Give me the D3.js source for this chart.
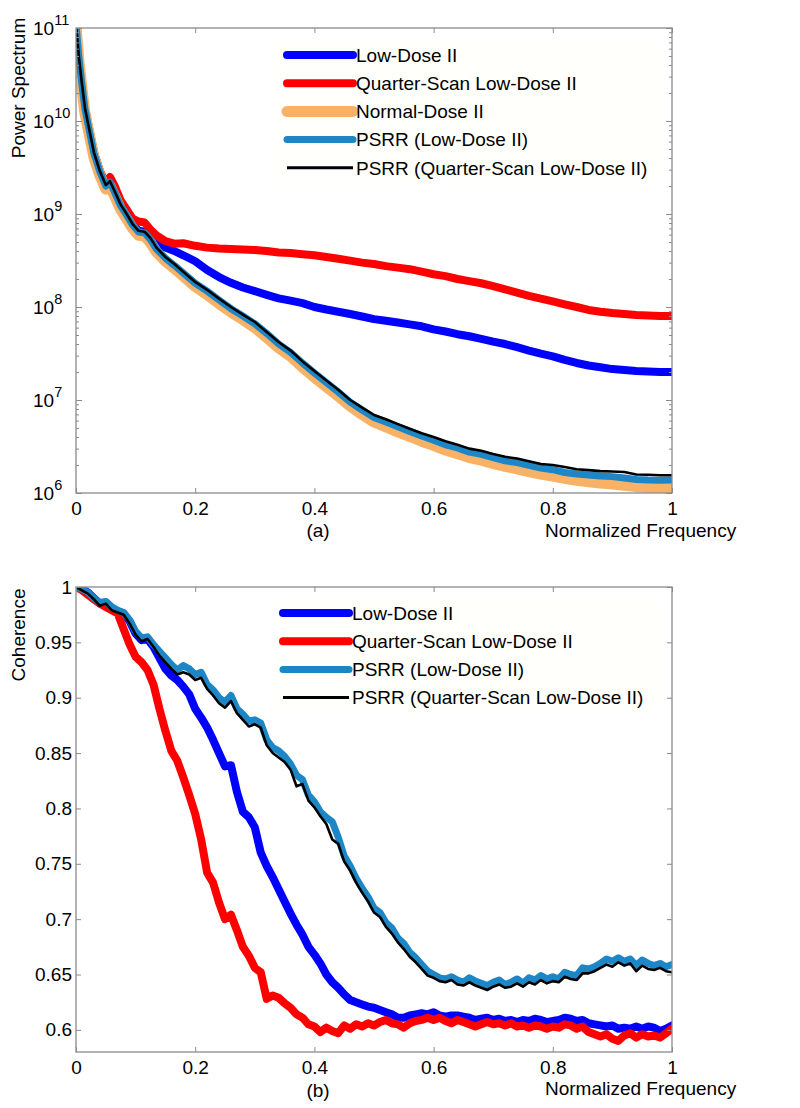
<!DOCTYPE html>
<html>
<head>
<meta charset="utf-8">
<script src="https://cdn.jsdelivr.net/npm/d3@7"></script>
<style>
  html, body { margin: 0; padding: 0; background: #fff; }
  svg { display: block; }
  text { font-family: "Liberation Sans", Arial, sans-serif; fill: #000; }
</style>
</head>
<body>
<svg id="chart" width="800" height="1108"></svg>
<script>
// ---------------- DATA ----------------
const freqPower = [0, 0.005, 0.01, 0.015, 0.02, 0.03, 0.04, 0.05, 0.057, 0.065, 0.075, 0.085, 0.095, 0.105, 0.115, 0.125, 0.135, 0.15, 0.165, 0.18,
  0.2, 0.22, 0.24, 0.26, 0.28, 0.3, 0.32, 0.34, 0.36, 0.38, 0.4, 0.42, 0.44, 0.46, 0.48, 0.5, 0.52, 0.54, 0.56, 0.58, 0.6,
  0.62, 0.64, 0.66, 0.68, 0.7, 0.72, 0.74, 0.76, 0.78, 0.8, 0.82, 0.84, 0.86, 0.88, 0.9, 0.92, 0.94, 0.96, 0.98, 1.0];

const powerLowDose = [1.12e11, 4.8e10, 2.5e10, 1.38e10, 9.5e9, 4.6e9, 2.9e9, 2.05e9, 2.25e9, 1.75e9, 1.26e9, 1.0e9, 7.8e8, 6.6e8, 6.45e8, 5.75e8, 5.0e8, 4.35e8, 4.0e8, 3.6e8,
  3.1e8, 2.5e8, 2.1e8, 1.82e8, 1.62e8, 1.48e8, 1.35e8, 1.24e8, 1.17e8, 1.1e8, 1.0e8, 9.4e7, 8.9e7, 8.4e7, 7.9e7, 7.4e7, 7.1e7, 6.8e7, 6.5e7, 6.2e7, 5.75e7,
  5.45e7, 5.1e7, 4.85e7, 4.55e7, 4.25e7, 4.0e7, 3.7e7, 3.4e7, 3.15e7, 2.95e7, 2.7e7, 2.5e7, 2.35e7, 2.25e7, 2.15e7, 2.1e7, 2.05e7, 2.02e7, 2.0e7, 2.0e7];

const powerQuarterScan = [1.12e11, 4.8e10, 2.5e10, 1.38e10, 9.5e9, 4.6e9, 2.9e9, 2.15e9, 2.5e9, 2.0e9, 1.4e9, 1.12e9, 8.9e8, 8.3e8, 8.1e8, 6.8e8, 5.9e8, 5.1e8, 4.8e8, 4.85e8,
  4.55e8, 4.35e8, 4.25e8, 4.2e8, 4.15e8, 4.1e8, 4.0e8, 3.85e8, 3.8e8, 3.7e8, 3.6e8, 3.45e8, 3.3e8, 3.15e8, 3.0e8, 2.9e8, 2.75e8, 2.65e8, 2.55e8, 2.4e8, 2.25e8,
  2.15e8, 2.0e8, 1.9e8, 1.8e8, 1.68e8, 1.55e8, 1.43e8, 1.32e8, 1.23e8, 1.15e8, 1.07e8, 1.0e8, 9.3e7, 8.9e7, 8.6e7, 8.4e7, 8.2e7, 8.1e7, 8.0e7, 8.0e7];

const powerNormalDose = [1.05e11, 4.3e10, 2.2e10, 1.22e10, 8.4e9, 4.1e9, 2.6e9, 1.85e9, 2.0e9, 1.55e9, 1.12e9, 8.9e8, 7.0e8, 5.9e8, 5.8e8, 4.9e8, 3.9e8, 3.1e8, 2.6e8, 2.15e8,
  1.66e8, 1.36e8, 1.09e8, 8.8e7, 7.3e7, 6.0e7, 4.7e7, 3.65e7, 2.95e7, 2.25e7, 1.76e7, 1.39e7, 1.1e7, 8.6e6, 7.0e6, 5.8e6, 5.15e6, 4.55e6, 4.05e6, 3.6e6, 3.25e6,
  2.9e6, 2.65e6, 2.4e6, 2.25e6, 2.08e6, 1.93e6, 1.82e6, 1.7e6, 1.6e6, 1.52e6, 1.44e6, 1.37e6, 1.32e6, 1.28e6, 1.25e6, 1.21e6, 1.17e6, 1.15e6, 1.13e6, 1.12e6];

const powerPsrrLowDose = [1.1e11, 4.7e10, 2.45e10, 1.35e10, 9.3e9, 4.5e9, 2.85e9, 2.0e9, 2.2e9, 1.7e9, 1.22e9, 9.7e8, 7.6e8, 6.4e8, 6.3e8, 5.3e8, 4.2e8, 3.35e8, 2.8e8, 2.32e8,
  1.8e8, 1.48e8, 1.19e8, 9.6e7, 8.0e7, 6.6e7, 5.2e7, 4.0e7, 3.25e7, 2.5e7, 1.95e7, 1.54e7, 1.22e7, 9.5e6, 7.8e6, 6.5e6, 5.8e6, 5.15e6, 4.6e6, 4.1e6, 3.7e6,
  3.3e6, 3.05e6, 2.75e6, 2.6e6, 2.4e6, 2.22e6, 2.12e6, 1.98e6, 1.85e6, 1.78e6, 1.66e6, 1.6e6, 1.56e6, 1.52e6, 1.5e6, 1.45e6, 1.4e6, 1.38e6, 1.37e6, 1.38e6];

const powerPsrrQuarterScan = [1.12e11, 4.8e10, 2.5e10, 1.38e10, 9.5e9, 4.6e9, 2.9e9, 2.05e9, 2.25e9, 1.75e9, 1.26e9, 1.0e9, 7.8e8, 6.6e8, 6.45e8, 5.5e8, 4.35e8, 3.45e8, 2.9e8, 2.4e8,
  1.86e8, 1.53e8, 1.23e8, 1.0e8, 8.3e7, 6.9e7, 5.4e7, 4.2e7, 3.4e7, 2.6e7, 2.05e7, 1.62e7, 1.29e7, 1.0e7, 8.3e6, 6.9e6, 6.2e6, 5.5e6, 4.9e6, 4.4e6, 4.0e6,
  3.6e6, 3.3e6, 3.0e6, 2.85e6, 2.63e6, 2.45e6, 2.35e6, 2.2e6, 2.05e6, 2.0e6, 1.9e6, 1.8e6, 1.76e6, 1.72e6, 1.7e6, 1.68e6, 1.58e6, 1.57e6, 1.55e6, 1.55e6];

const freqCoherence = [0.00, 0.01, 0.02, 0.03, 0.04, 0.05, 0.06, 0.07, 0.08, 0.09, 0.10, 0.11, 0.12, 0.13, 0.14, 0.15, 0.16, 0.17, 0.18, 0.19,
  0.20, 0.21, 0.22, 0.23, 0.24, 0.25, 0.26, 0.27, 0.28, 0.29, 0.30, 0.31, 0.32, 0.33, 0.34, 0.35, 0.36, 0.37, 0.38, 0.39,
  0.40, 0.41, 0.42, 0.43, 0.44, 0.45, 0.46, 0.47, 0.48, 0.49, 0.50, 0.51, 0.52, 0.53, 0.54, 0.55, 0.56, 0.57, 0.58, 0.59,
  0.60, 0.61, 0.62, 0.63, 0.64, 0.65, 0.66, 0.67, 0.68, 0.69, 0.70, 0.71, 0.72, 0.73, 0.74, 0.75, 0.76, 0.77, 0.78, 0.79,
  0.80, 0.81, 0.82, 0.83, 0.84, 0.85, 0.86, 0.87, 0.88, 0.89, 0.90, 0.91, 0.92, 0.93, 0.94, 0.95, 0.96, 0.97, 0.98, 0.99, 1.00];

const cohLowDose = [1.0, 0.998, 0.995, 0.99, 0.985, 0.986, 0.981, 0.978, 0.976, 0.969, 0.958, 0.952, 0.953, 0.946, 0.936, 0.926, 0.92, 0.916, 0.91, 0.903,
  0.89, 0.882, 0.873, 0.862, 0.85, 0.838, 0.839, 0.815, 0.797, 0.792, 0.783, 0.76, 0.748, 0.738, 0.727, 0.716, 0.705, 0.695, 0.686, 0.675,
  0.668, 0.66, 0.65, 0.643, 0.638, 0.632, 0.627, 0.625, 0.623, 0.621, 0.62, 0.618, 0.616, 0.614, 0.611, 0.611, 0.613, 0.614, 0.615, 0.614,
  0.616, 0.613, 0.612, 0.613, 0.613, 0.612, 0.611, 0.609, 0.61, 0.611, 0.609, 0.61, 0.608, 0.609, 0.607, 0.609, 0.608, 0.61, 0.609, 0.607,
  0.608, 0.609, 0.611, 0.61, 0.608, 0.609, 0.606, 0.605, 0.604, 0.603, 0.604, 0.601, 0.602, 0.601, 0.603, 0.601, 0.603, 0.602, 0.599, 0.601, 0.604];

const cohQuarterScan = [1.0, 0.997, 0.993, 0.989, 0.985, 0.982, 0.979, 0.976, 0.962, 0.948, 0.937, 0.932, 0.925, 0.912, 0.89, 0.87, 0.852, 0.843, 0.828, 0.812,
  0.795, 0.772, 0.742, 0.733, 0.715, 0.7, 0.704, 0.69, 0.675, 0.667, 0.656, 0.652, 0.628, 0.631, 0.629, 0.624, 0.62, 0.614, 0.611, 0.605,
  0.603, 0.598, 0.602, 0.599, 0.597, 0.604, 0.601, 0.605, 0.603, 0.606, 0.604, 0.607, 0.609, 0.606, 0.605, 0.602, 0.606, 0.608, 0.609, 0.611,
  0.609, 0.611, 0.608, 0.606, 0.609, 0.607, 0.605, 0.603, 0.605, 0.607, 0.605, 0.606, 0.604, 0.606, 0.603, 0.604, 0.602, 0.604, 0.603, 0.601,
  0.603, 0.602, 0.605, 0.604, 0.601, 0.603, 0.598, 0.596, 0.594, 0.596, 0.592, 0.59, 0.595, 0.597, 0.593, 0.596, 0.594, 0.595, 0.593, 0.597, 0.601];

const cohPsrrLowDose = [1.0, 0.998, 0.995, 0.99, 0.986, 0.987, 0.982, 0.979, 0.977, 0.97, 0.96, 0.954, 0.955, 0.948, 0.942, 0.936, 0.93, 0.925, 0.929, 0.926,
  0.921, 0.923, 0.912, 0.907, 0.9, 0.896, 0.902, 0.89, 0.885, 0.879, 0.88, 0.877, 0.862, 0.855, 0.852, 0.847, 0.84, 0.83, 0.826, 0.812,
  0.806, 0.797, 0.792, 0.788, 0.774, 0.757, 0.748, 0.737, 0.728, 0.72, 0.71, 0.706, 0.697, 0.692, 0.683, 0.678, 0.67, 0.665, 0.659, 0.653,
  0.65, 0.647, 0.646, 0.648, 0.645, 0.643, 0.647, 0.644, 0.642, 0.64, 0.643, 0.645, 0.641, 0.643, 0.646, 0.642, 0.647, 0.645, 0.649, 0.646,
  0.648, 0.646, 0.652, 0.65, 0.649, 0.656, 0.655, 0.657, 0.66, 0.664, 0.662, 0.665, 0.662, 0.664, 0.658, 0.663, 0.66, 0.658, 0.66, 0.657, 0.659];

const cohPsrrQuarterScan = [1.0, 0.997, 0.994, 0.989, 0.983, 0.985, 0.979, 0.977, 0.975, 0.967, 0.957, 0.951, 0.953, 0.946, 0.938, 0.932, 0.926, 0.921, 0.923, 0.921,
  0.916, 0.918, 0.908, 0.902, 0.895, 0.891, 0.897, 0.886, 0.88, 0.874, 0.876, 0.873, 0.857, 0.85, 0.846, 0.842, 0.835, 0.82, 0.822, 0.807,
  0.801, 0.793, 0.786, 0.772, 0.768, 0.752, 0.744, 0.733, 0.724, 0.716, 0.706, 0.702, 0.693, 0.687, 0.679, 0.673, 0.666, 0.661, 0.655, 0.649,
  0.647, 0.644, 0.643, 0.645, 0.641, 0.64, 0.643, 0.64, 0.638, 0.636, 0.639, 0.641, 0.638, 0.639, 0.642, 0.639, 0.643, 0.641, 0.645, 0.642,
  0.644, 0.643, 0.648, 0.646, 0.645, 0.651, 0.651, 0.653, 0.656, 0.659, 0.657, 0.661, 0.658, 0.66, 0.653, 0.658, 0.655, 0.654, 0.656, 0.653, 0.652];

const xTickValues = [0, 0.2, 0.4, 0.6, 0.8, 1];
const xTickLabels = ["0", "0.2", "0.4", "0.6", "0.8", "1"];
const powerTickExponents = [6, 7, 8, 9, 10, 11];
const cohTickValues = [0.6, 0.65, 0.7, 0.75, 0.8, 0.85, 0.9, 0.95, 1];
const cohTickLabels = ["0.6", "0.65", "0.7", "0.75", "0.8", "0.85", "0.9", "0.95", "1"];

const powerSeries = [
  { name: "Low-Dose II", values: powerLowDose, color: "#0000ff", width: 8 },
  { name: "Quarter-Scan Low-Dose II", values: powerQuarterScan, color: "#ff0000", width: 8 },
  { name: "Normal-Dose II", values: powerNormalDose, color: "#f8b268", width: 11 },
  { name: "PSRR (Low-Dose II)", values: powerPsrrLowDose, color: "#1c86c6", width: 7 },
  { name: "PSRR (Quarter-Scan Low-Dose II)", values: powerPsrrQuarterScan, color: "#000000", width: 2.6 }
];
const cohSeries = [
  { name: "Low-Dose II", values: cohLowDose, color: "#0000ff", width: 8 },
  { name: "Quarter-Scan Low-Dose II", values: cohQuarterScan, color: "#ff0000", width: 8 },
  { name: "PSRR (Low-Dose II)", values: cohPsrrLowDose, color: "#1c86c6", width: 7 },
  { name: "PSRR (Quarter-Scan Low-Dose II)", values: cohPsrrQuarterScan, color: "#000000", width: 2.6 }
];

// ---------------- DRAW ----------------
const svg = d3.select("#chart");
const axisColor = "#8a8a8a";
const FS = 19;
const L = 76, R = 672;

function frame(g, top, bottom) {
  g.append("rect").attr("x", L).attr("y", top).attr("width", R - L).attr("height", bottom - top)
    .attr("fill", "none").attr("stroke", axisColor).attr("stroke-width", 1.3);
}

function styleAxis(sel) {
  sel.select(".domain").remove();
  sel.selectAll(".tick line").attr("stroke", axisColor).attr("stroke-width", 1);
  sel.selectAll(".tick text").attr("font-size", FS).attr("fill", "#000")
    .attr("font-family", "'Liberation Sans', Arial, sans-serif");
}

function legend(g, series, box, x0, y0, dy) {
  g.append("rect").attr("x", box[0]).attr("y", box[1]).attr("width", box[2]).attr("height", box[3])
    .attr("fill", "#fffffb").attr("stroke", "none");
  series.forEach((s, i) => {
    const y = y0 + i * dy;
    g.append("line").attr("x1", x0).attr("x2", x0 + 66).attr("y1", y).attr("y2", y)
      .attr("stroke", s.color).attr("stroke-width", s.width === 2.6 ? 3 : s.width)
      .attr("stroke-linecap", s.width === 2.6 ? "butt" : "round");
    g.append("text").attr("x", x0 + 69).attr("y", y).attr("dy", "0.36em")
      .attr("font-size", FS).text(s.name);
  });
}

// ----- Panel (a): power spectrum -----
{
  const top = 28, bottom = 493;
  const x = d3.scaleLinear().domain([0, 1]).range([L, R]);
  const y = d3.scaleLog().domain([1e6, 1e11]).range([bottom, top]);
  const g = svg.append("g");

  g.append("clipPath").attr("id", "clipA").append("rect")
    .attr("x", L).attr("y", top).attr("width", R - L).attr("height", bottom - top);

  const line = d3.line().x((d, i) => x(freqPower[i])).y(d => y(d));
  const lines = g.append("g").attr("clip-path", "url(#clipA)");
  powerSeries.forEach(s => {
    lines.append("path").datum(s.values).attr("d", line)
      .attr("fill", "none").attr("stroke", s.color).attr("stroke-width", s.width)
      .attr("stroke-linejoin", "round").attr("stroke-linecap", "round");
  });

  frame(g, top, bottom);

  g.append("g").attr("transform", `translate(0,${bottom})`)
    .call(d3.axisBottom(x).tickValues(xTickValues).tickFormat((d, i) => xTickLabels[i])
      .tickSizeInner(-5).tickSizeOuter(0).tickPadding(9)).call(styleAxis);
  g.append("g").attr("transform", `translate(0,${top})`)
    .call(d3.axisTop(x).tickValues(xTickValues).tickFormat("").tickSizeInner(-5).tickSizeOuter(0)).call(styleAxis);

  const majors = powerTickExponents.map(e => Math.pow(10, e));
  const minors = [];
  majors.slice(0, -1).forEach(m => { for (let k = 2; k <= 9; k++) minors.push(m * k); });
  [[L, d3.axisLeft], [R, d3.axisRight]].forEach(([px, ax]) => {
    g.append("g").attr("transform", `translate(${px},0)`)
      .call(ax(y).tickValues(majors).tickFormat("").tickSizeInner(-6).tickSizeOuter(0)).call(styleAxis);
    g.append("g").attr("transform", `translate(${px},0)`)
      .call(ax(y).tickValues(minors).tickFormat("").tickSizeInner(-3).tickSizeOuter(0)).call(styleAxis);
  });
  powerTickExponents.forEach(e => {
    const t = g.append("text").attr("x", 33).attr("y", y(Math.pow(10, e)) + 7).attr("font-size", FS);
    t.append("tspan").text("10");
    t.append("tspan").attr("dy", -10).attr("font-size", 14.5).text(String(e));
  });

  g.append("text").attr("transform", `translate(25,${88}) rotate(-90)`).attr("text-anchor", "middle")
    .attr("font-size", FS).text("Power Spectrum");
  g.append("text").attr("x", 545).attr("y", 537).attr("font-size", FS).text("Normalized Frequency");
  g.append("text").attr("x", 318).attr("y", 537).attr("text-anchor", "middle").attr("font-size", FS).text("(a)");

  legend(g, powerSeries, [273, 40, 386, 143], 287, 55, 28.2);
}

// ----- Panel (b): coherence -----
{
  const top = 587, bottom = 1052;
  const x = d3.scaleLinear().domain([0, 1]).range([L, R]);
  const y = d3.scaleLinear().domain([0.58, 1]).range([bottom, top]);
  const g = svg.append("g");

  g.append("clipPath").attr("id", "clipB").append("rect")
    .attr("x", L).attr("y", top).attr("width", R - L).attr("height", bottom - top);

  const line = d3.line().x((d, i) => x(freqCoherence[i])).y(d => y(d));
  const lines = g.append("g").attr("clip-path", "url(#clipB)");
  cohSeries.forEach(s => {
    lines.append("path").datum(s.values).attr("d", line)
      .attr("fill", "none").attr("stroke", s.color).attr("stroke-width", s.width)
      .attr("stroke-linejoin", "round").attr("stroke-linecap", "round");
  });

  frame(g, top, bottom);

  g.append("g").attr("transform", `translate(0,${bottom})`)
    .call(d3.axisBottom(x).tickValues(xTickValues).tickFormat((d, i) => xTickLabels[i])
      .tickSizeInner(-5).tickSizeOuter(0).tickPadding(9)).call(styleAxis);
  g.append("g").attr("transform", `translate(0,${top})`)
    .call(d3.axisTop(x).tickValues(xTickValues).tickFormat("").tickSizeInner(-5).tickSizeOuter(0)).call(styleAxis);
  g.append("g").attr("transform", `translate(${L},0)`)
    .call(d3.axisLeft(y).tickValues(cohTickValues).tickFormat((d, i) => cohTickLabels[i])
      .tickSizeInner(-5).tickSizeOuter(0).tickPadding(4)).call(styleAxis);
  g.append("g").attr("transform", `translate(${R},0)`)
    .call(d3.axisRight(y).tickValues(cohTickValues).tickFormat("").tickSizeInner(-5).tickSizeOuter(0)).call(styleAxis);

  g.append("text").attr("transform", `translate(25,${635}) rotate(-90)`).attr("text-anchor", "middle")
    .attr("font-size", FS).text("Coherence");
  g.append("text").attr("x", 545).attr("y", 1095).attr("font-size", FS).text("Normalized Frequency");
  g.append("text").attr("x", 318).attr("y", 1097).attr("text-anchor", "middle").attr("font-size", FS).text("(b)");

  legend(g, cohSeries, [273, 597, 386, 115], 283, 613, 28.2);
}
</script>
</body>
</html>
